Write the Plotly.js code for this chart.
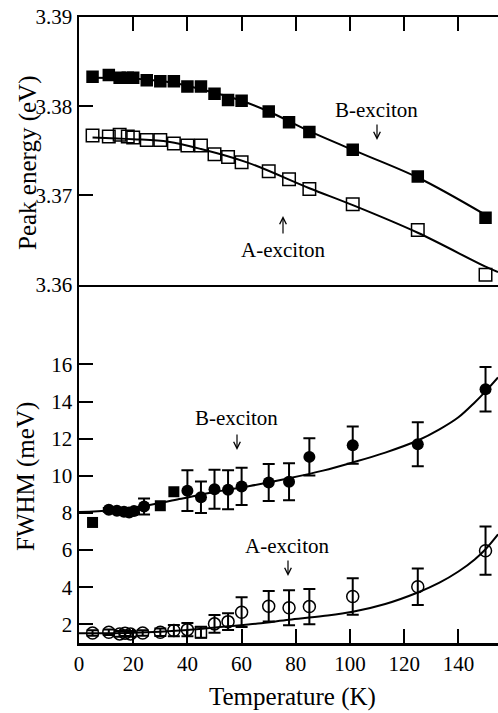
<!DOCTYPE html>
<html>
<head>
<meta charset="utf-8">
<script src="https://cdn.plot.ly/plotly-3.0.1.min.js"></script>
<style>
  html, body { margin: 0; padding: 0; background: #fff; }
  #chart { width: 498px; height: 713px; }
</style>
</head>
<body>
<div id="chart"></div>
<script>
// ---------- Data ----------
// Top panel: peak energy (eV)
const tempEnergy = [5, 11, 15, 18, 20, 25, 30, 35, 40, 45, 50, 55, 60, 70, 77.5, 85, 101, 125, 150];
const energyB = [3.3833, 3.3835, 3.3832, 3.3832, 3.3832, 3.3829, 3.3828, 3.3828, 3.3822, 3.3822, 3.3814, 3.3807, 3.3806, 3.3794, 3.3782, 3.3771, 3.3751, 3.3721, 3.3675];
const energyA = [3.3767, 3.3766, 3.3768, 3.3766, 3.3765, 3.3762, 3.3762, 3.3758, 3.3756, 3.3756, 3.3746, 3.3743, 3.3737, 3.3727, 3.3718, 3.3707, 3.3690, 3.3661, 3.3611];

// Fit curves
const fitEnergyBT = [5, 20, 35, 50, 60, 70, 85, 101, 125, 150];
const fitEnergyB  = [3.3832, 3.3831, 3.3826, 3.3815, 3.3806, 3.3794, 3.3772, 3.3751, 3.3720, 3.3678];
const fitEnergyAT = [5, 20, 33, 45, 62, 85, 101, 125, 150, 154.6];
const fitEnergyA  = [3.3765, 3.3763, 3.3760, 3.3752, 3.3737, 3.3708, 3.3689, 3.3658, 3.3620, 3.3614];

// Bottom panel: FWHM (meV)
const tempFwhmB = [11, 14, 16.6, 18.5, 20.3, 24, 40, 45, 50, 55, 60, 70, 77.5, 85, 101, 125, 150];
const fwhmB     = [8.17, 8.12, 8.07, 8.03, 8.10, 8.35, 9.2, 8.85, 9.28, 9.25, 9.43, 9.64, 9.68, 11.02, 11.65, 11.7, 14.66];
const fwhmBErr  = [0.1, 0.1, 0.1, 0.1, 0.1, 0.43, 1.1, 0.85, 1.05, 1.05, 1.0, 1.0, 1.0, 1.0, 1.0, 1.18, 1.2];
const tempFwhmBSq = [5, 30, 35];
const fwhmBSq     = [7.49, 8.39, 9.14];

const tempFwhmA = [5, 11, 15, 17, 19, 23.5, 30, 35, 40, 50, 55, 60, 70, 77.5, 85, 101, 125, 150];
const fwhmA     = [1.54, 1.58, 1.49, 1.53, 1.49, 1.54, 1.58, 1.67, 1.72, 2.03, 2.15, 2.66, 2.98, 2.9, 2.96, 3.5, 4.03, 5.97];
const fwhmAErr  = [0.15, 0.15, 0.15, 0.15, 0.15, 0.15, 0.2, 0.3, 0.35, 0.48, 0.45, 0.8, 0.82, 0.94, 0.95, 0.98, 0.98, 1.3];
const tempFwhmASq = [45];
const fwhmASq     = [1.58];
const fwhmASqErr  = [0.3];

const fitFwhmBT = [0, 12, 25, 37, 49, 63, 77.5, 90, 101, 113, 125, 133, 140, 146, 150, 154.6];
const fitFwhmB  = [8.05, 8.15, 8.4, 8.75, 9.1, 9.45, 9.87, 10.28, 10.72, 11.25, 11.9, 12.5, 13.15, 13.95, 14.55, 15.3];
const fitFwhmAT = [0, 20, 40, 55, 66, 77.5, 90, 101, 113, 125, 133, 140, 146, 150, 154.6];
const fitFwhmA  = [1.52, 1.55, 1.7, 1.9, 2.05, 2.25, 2.45, 2.68, 3.1, 3.72, 4.25, 4.85, 5.5, 6.05, 6.85];

const xTicks = [0, 20, 40, 60, 80, 100, 120, 140];
const xTicksTop = [20, 40, 60, 80, 100, 120, 140];
const yTicksFwhm = [2, 4, 6, 8, 10, 12, 14, 16];
const yTicksEnergy = [3.36, 3.37, 3.38, 3.39];
const yTickTextEnergy = ['3.36', '3.37', '3.38', '3.39'];

// ---------- Layout geometry ----------
const W = 498, H = 713;
const M = {l: 79, r: 0, t: 17, b: 70};
const plotH = H - M.t - M.b;
const split = (643 - 284.5) / plotH;
const px = x => (x - M.l) / (W - M.l - M.r);
const py = y => (H - M.b - y) / plotH;

const serif = 'Liberation Serif';
const black = '#000';

const lineStyle = {color: black, width: 2, shape: 'spline', smoothing: 1};

const traces = [
  // top panel fits
  {x: fitEnergyBT, y: fitEnergyB, xaxis: 'x2', yaxis: 'y2', mode: 'lines', line: lineStyle, hoverinfo: 'skip'},
  {x: fitEnergyAT, y: fitEnergyA, xaxis: 'x2', yaxis: 'y2', mode: 'lines', line: lineStyle, hoverinfo: 'skip'},
  // top panel markers
  {x: tempEnergy, y: energyB, xaxis: 'x2', yaxis: 'y2', mode: 'markers',
   marker: {symbol: 'square', size: 12.5, color: black}},
  {x: tempEnergy, y: energyA, xaxis: 'x2', yaxis: 'y2', mode: 'markers',
   marker: {symbol: 'square-open', size: 12.5, color: black, line: {width: 1.5, color: black}}},
  // bottom panel fits
  {x: fitFwhmBT, y: fitFwhmB, xaxis: 'x', yaxis: 'y', mode: 'lines', line: lineStyle, hoverinfo: 'skip'},
  {x: fitFwhmAT, y: fitFwhmA, xaxis: 'x', yaxis: 'y', mode: 'lines', line: lineStyle, hoverinfo: 'skip'},
  // bottom panel markers
  {x: tempFwhmB, y: fwhmB, xaxis: 'x', yaxis: 'y', mode: 'markers',
   marker: {symbol: 'circle', size: 12, color: black},
   error_y: {type: 'data', array: fwhmBErr, visible: true, color: black, thickness: 2, width: 6}},
  {x: tempFwhmBSq, y: fwhmBSq, xaxis: 'x', yaxis: 'y', mode: 'markers',
   marker: {symbol: 'square', size: 11, color: black}},
  {x: tempFwhmA, y: fwhmA, xaxis: 'x', yaxis: 'y', mode: 'markers',
   marker: {symbol: 'circle-open', size: 12, color: black, line: {width: 1.5, color: black}},
   error_y: {type: 'data', array: fwhmAErr, visible: true, color: black, thickness: 2, width: 6}},
  {x: tempFwhmASq, y: fwhmASq, xaxis: 'x', yaxis: 'y', mode: 'markers',
   marker: {symbol: 'square-open', size: 11, color: black, line: {width: 1.5, color: black}},
   error_y: {type: 'data', array: fwhmASqErr, visible: true, color: black, thickness: 2, width: 6}}
];

const axisCommon = {
  showgrid: false, zeroline: false, showline: true, linecolor: black, linewidth: 2.5,
  ticks: 'inside', ticklen: 14, tickwidth: 2, tickcolor: black,
  tickfont: {family: serif, size: 21, color: black}
};

function ann(text, x, y, size, extra) {
  return Object.assign({
    text: text, xref: 'paper', yref: 'paper', x: px(x), y: py(y),
    xanchor: 'center', yanchor: 'middle', showarrow: false,
    font: {family: serif, size: size, color: black}
  }, extra || {});
}
// arrow from tail (x, y0) to head (x, y1), pixel positions
function arrow(x, y0, y1) {
  return {
    text: '', xref: 'paper', yref: 'paper', x: px(x), y: py(y1),
    showarrow: true, ax: 0, ay: y0 - y1, axref: 'pixel', ayref: 'pixel',
    arrowhead: 5, arrowsize: 1.1, arrowwidth: 1.2, arrowcolor: black, standoff: 0, startstandoff: 0
  };
}

const layout = {
  width: W, height: H,
  margin: M,
  paper_bgcolor: '#fff', plot_bgcolor: '#fff',
  showlegend: false,
  font: {family: serif, color: black},
  xaxis: Object.assign({}, axisCommon, {
    domain: [0, 1], anchor: 'y', range: [0, 154.6], tickvals: xTicks, ticktext: xTicks.map(String)
  }),
  xaxis2: Object.assign({}, axisCommon, {
    domain: [0, 1], anchor: 'y2', side: 'top', range: [0, 154.6], tickvals: xTicksTop,
    showticklabels: false, mirror: true
  }),
  yaxis: Object.assign({}, axisCommon, {
    domain: [0, split], anchor: 'x', range: [1.0, 20.3], tickvals: yTicksFwhm, ticktext: yTicksFwhm.map(String)
  }),
  yaxis2: Object.assign({}, axisCommon, {
    domain: [split, 1], anchor: 'x2', range: [3.36, 3.39], tickvals: yTicksEnergy, ticktext: yTickTextEnergy
  }),
  annotations: [
    ann('Peak energy (eV)', 28, 163, 25, {textangle: -90}),
    ann('FWHM (meV)', 26, 477, 25, {textangle: -90}),
    ann('Temperature (K)', 292, 697, 25),
    ann('B-exciton', 376, 110, 21),
    arrow(377, 123, 140),
    ann('A-exciton', 283, 250, 21),
    arrow(283, 235, 216),
    ann('B-exciton', 236, 418, 21),
    arrow(237, 433, 450),
    ann('A-exciton', 287, 546, 21),
    arrow(288, 559, 576)
  ]
};

Plotly.newPlot('chart', traces, layout, {staticPlot: true, displayModeBar: false});
</script>
</body>
</html>
